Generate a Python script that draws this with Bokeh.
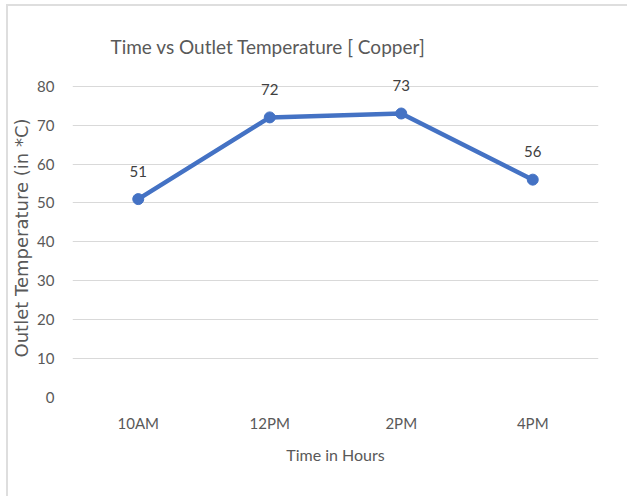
from bokeh.plotting import figure
from bokeh.models import FactorRange, Range1d, ColumnDataSource, FixedTicker, LabelSet
from bokeh.core.properties import value
from bokeh.embed import file_html
from bokeh.resources import INLINE

times = ["10AM", "12PM", "2PM", "4PM"]
temps = [51, 72, 73, 56]
labels = ["51", "72", "73", "56"]
y_ticks = [0, 10, 20, 30, 40, 50, 60, 70, 80]

TXT = "#595959"
BLUE = "#4472C4"
FONT = "Lato"

p = figure(width=621, height=492, x_range=FactorRange(*times, range_padding=0),
           y_range=Range1d(0, 82), output_backend="svg", toolbar_location=None,
           min_border_left=64, min_border_right=31, min_border_top=72, min_border_bottom=101)
p.styles = {"margin-left": "6px", "margin-top": "4px",
            "border-left": "2px solid #dedede", "border-top": "2px solid #dedede"}
p.title.text = "Time vs Outlet Temperature [ Copper]"
p.title.align = "left"
p.title.offset = 38
p.title.standoff = 41
p.title.text_font = FONT
p.title.text_font_size = "19px"
p.title.text_font_style = "normal"
p.title.text_color = TXT
p.outline_line_color = None
p.background_fill_color = "white"
p.border_fill_color = "white"

src = ColumnDataSource(dict(x=times, y=temps, t=labels))
p.line("x", "y", source=src, line_color=BLUE, line_width=4.5, line_join="round")
p.scatter("x", "y", source=src, size=11, fill_color=BLUE, line_color=BLUE)
p.add_layout(LabelSet(x="x", y="y", text="t", source=src, y_offset=28, text_align="center",
                      text_baseline="middle", text_font=value(FONT), text_font_size=value("15px"),
                      text_color="#404040"))

p.xgrid.grid_line_color = None
p.ygrid.grid_line_color = "#d9d9d9"
p.ygrid.grid_line_width = 1
p.yaxis.ticker = FixedTicker(ticks=y_ticks)

for ax in (p.xaxis, p.yaxis):
    ax.axis_line_color = None
    ax.major_tick_line_color = None
    ax.minor_tick_line_color = None
    ax.major_label_text_color = TXT
    ax.major_label_text_font = FONT
    ax.major_label_text_font_size = "15px"
    ax.axis_label_text_color = TXT
    ax.axis_label_text_font_style = "normal"

p.xaxis.major_label_standoff = 10
p.xaxis.axis_label = "Time in Hours"
p.xaxis.axis_label_text_font = FONT
p.xaxis.axis_label_text_font_size = "16px"
p.xaxis.axis_label_standoff = 10

p.yaxis.major_label_standoff = 12
p.yaxis.axis_label = "Outlet Temperature (in *C)"
p.yaxis.axis_label_text_font = "DejaVu Sans"
p.yaxis.axis_label_text_font_size = "18px"
p.yaxis.axis_label_standoff = 2

open("out.html", "w").write(file_html(p, INLINE))
